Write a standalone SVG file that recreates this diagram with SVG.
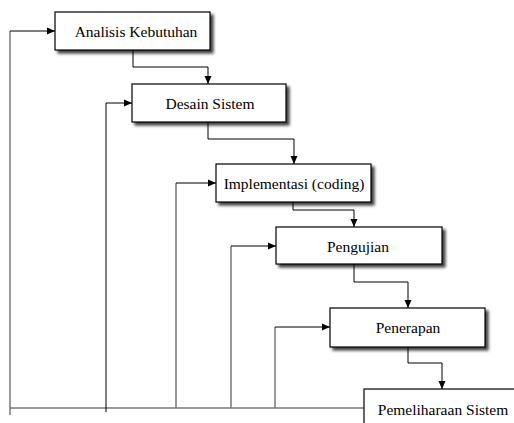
<svg xmlns="http://www.w3.org/2000/svg" width="514" height="423" viewBox="0 0 514 423">
<defs>
<style>
.box{fill:#fff;stroke:#000;stroke-width:1.2}
.lbl{font-family:"Liberation Serif","Times New Roman",serif;font-size:15.5px;fill:#000;text-anchor:middle}
.c{fill:none;stroke:#000;stroke-width:1}
.g{fill:none;stroke:#777;stroke-width:1.5}
</style>
<marker id="ah" viewBox="0 0 8 8" refX="8" refY="4" markerWidth="8" markerHeight="8" markerUnits="userSpaceOnUse" orient="auto">
<path d="M0,0.5 L8,4 L0,7.5 Z" fill="#000"/>
</marker>
<filter id="sh" x="-10%" y="-20%" width="130%" height="160%">
<feGaussianBlur in="SourceAlpha" stdDeviation="1.6"/>
<feOffset dx="3" dy="3" result="b"/>
<feComponentTransfer><feFuncA type="linear" slope="0.75"/></feComponentTransfer>
<feMerge><feMergeNode/><feMergeNode in="SourceGraphic"/></feMerge>
</filter>
</defs>
<rect width="514" height="423" fill="#fff"/>
<g id="connectors">
<path class="g" d="M10,415 V31"/>
<path class="c" d="M10,31 H55" marker-end="url(#ah)"/>
<path class="g" d="M10,408 H364"/>
<path class="c" d="M106,412 V103 H132" marker-end="url(#ah)"/>
<path class="g" d="M176,408 V183"/>
<path class="c" d="M176,183 H216" marker-end="url(#ah)"/>
<path class="g" d="M231,408 V246"/>
<path class="c" d="M231,246 H276" marker-end="url(#ah)"/>
<path class="g" d="M275,408 V327"/>
<path class="c" d="M275,327 H330" marker-end="url(#ah)"/>
<path class="c" d="M133,50 V67 H208 V84" marker-end="url(#ah)"/>
<path class="c" d="M208,122 V139 H294 V164" marker-end="url(#ah)"/>
<path class="c" d="M293,202 V210 H354 V227" marker-end="url(#ah)"/>
<path class="c" d="M354,264 V282 H408 V308" marker-end="url(#ah)"/>
<path class="c" d="M408,347 V363 H442 V389" marker-end="url(#ah)"/>
</g>
<g id="n1"><rect class="box" x="55" y="12" width="155" height="38" filter="url(#sh)"/><text class="lbl" x="136" y="36.5">Analisis Kebutuhan</text></g>
<g id="n2"><rect class="box" x="132" y="84" width="154" height="38" filter="url(#sh)"/><text class="lbl" x="210" y="108.5">Desain Sistem</text></g>
<g id="n3"><rect class="box" x="216" y="164" width="155" height="38" filter="url(#sh)"/><text class="lbl" x="294" y="188.5">Implementasi (coding)</text></g>
<g id="n4"><rect class="box" x="276" y="227" width="166" height="37" filter="url(#sh)"/><text class="lbl" x="358" y="251.5">Pengujian</text></g>
<g id="n5"><rect class="box" x="330" y="308" width="155" height="39" filter="url(#sh)"/><text class="lbl" x="408" y="332.5">Penerapan</text></g>
<g id="n6"><rect class="box" x="364" y="389" width="160" height="45" filter="url(#sh)"/><text class="lbl" x="443" y="415">Pemeliharaan Sistem</text></g>
</svg>
